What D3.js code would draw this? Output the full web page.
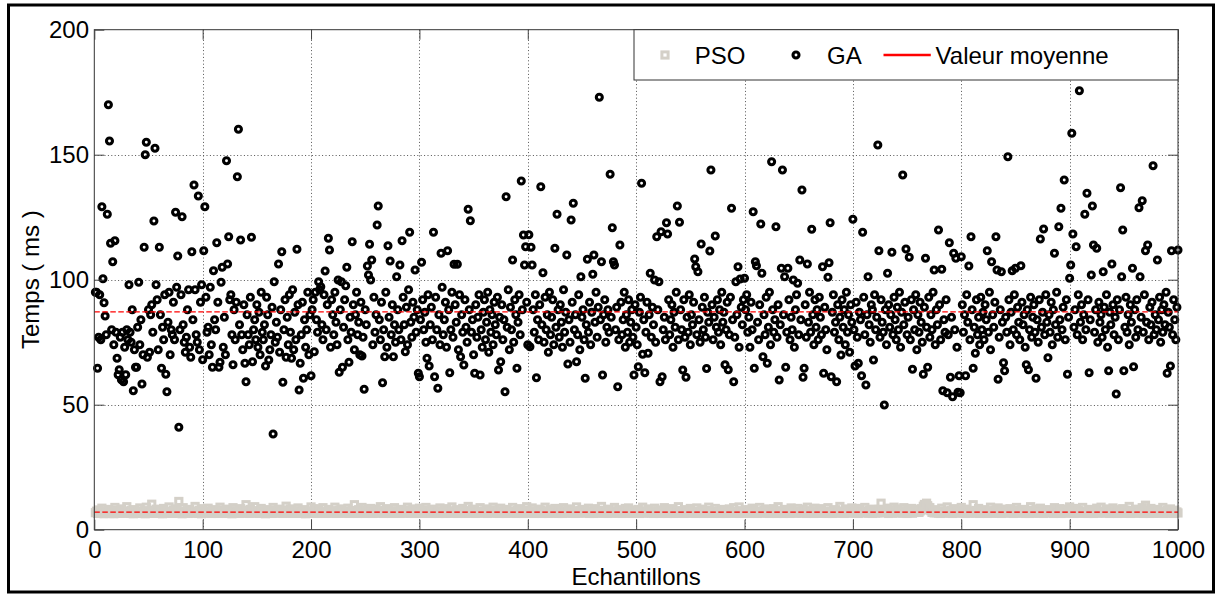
<!DOCTYPE html>
<html>
<head>
<meta charset="utf-8">
<script src="https://cdn.jsdelivr.net/npm/d3@7"></script>
<style>
  html, body { margin: 0; padding: 0; background: #fff; }
  svg { display: block; }
  text { font-family: Arial, "Liberation Sans", Helvetica, sans-serif; fill: #000; }
</style>
</head>
<body>
<svg id="chart" width="1219" height="594"></svg>
<script>
// Execution time per sample (ms), GA runs
const gaTimes = [
  95, 95, 64.6, 77, 94, 76, 129.2, 100.4, 90.8, 85.5,
  78, 126.2, 170, 155.5, 114.6, 80, 107.2, 74, 115.6, 79,
  68.6, 62, 64, 77, 60, 79, 59.2, 73, 62, 80,
  76, 98, 79, 75, 88, 55.6, 72, 65, 65, 81,
  99, 74, 84, 58.3, 70, 113, 150, 155, 69, 88,
  71, 86, 90, 79, 123.5, 152.6, 98, 92, 72, 113,
  86, 64.6, 81, 76, 94, 62.2, 55.2, 83, 95, 70,
  80, 78, 91, 76, 127, 97, 109.5, 41, 80, 94,
  125.2, 82, 75, 71, 77, 88, 96, 73, 69, 111.2,
  84, 137.9, 96, 78, 75, 133.5, 72, 91, 98, 68,
  111.6, 129.2, 93, 79, 81, 70, 97, 74, 65, 103.6,
  84, 80, 114.8, 91, 65, 67, 99, 105, 73, 85,
  70, 147.6, 106.3, 117.2, 92, 94, 78, 66, 88, 76,
  91, 141.2, 160.2, 82, 115.9, 78, 72, 90, 66.6, 59.2,
  86, 78, 74, 93, 117, 67.2, 80, 84, 76, 90,
  73, 87, 70, 95, 79, 76, 82, 65.5, 93, 86,
  67.9, 72, 78, 89, 38.3, 99.2, 75, 83, 77, 106.3,
  71, 88, 111.2, 59, 80, 92, 69, 85, 74, 94,
  79, 68.6, 96, 72, 87, 76, 112.2, 90, 55.9, 66.6,
  78, 91, 60.6, 84, 73, 80, 95, 70, 86, 61.6,
  88, 92, 71.2, 95, 84, 79, 99.2, 96, 97.2, 82,
  76, 94, 103.5, 80, 90, 116.6, 111.9, 73, 92, 86,
  78, 95, 83, 74, 99.9, 63, 88, 99.2, 65, 81,
  92, 97.6, 105, 76, 67, 85, 79, 115.2, 90, 72,
  86, 95, 78, 83, 70, 91, 69.5, 77, 56.2, 88,
  82, 105.5, 101.9, 114.2, 99.9, 107.9, 74, 93, 79, 86,
  121.9, 129.5, 84, 76, 91, 58.8, 80, 69.2, 95, 73,
  113.6, 85, 107.5, 78, 90, 69.2, 82, 75, 101.2, 88,
  80, 105.9, 76, 115.6, 93, 82, 71.2, 89, 74, 96,
  119, 83, 77, 91, 85, 103.9, 79, 88, 62.6, 61.2,
  84, 107, 92, 80, 87, 75, 68.6, 94, 65.5, 82,
  89, 76, 119, 61.2, 93, 80, 56.6, 86, 74, 110.6,
  97, 78, 84, 91, 73, 111.6, 88, 62.8, 80, 95,
  77, 106.2, 90, 83, 106.2, 72, 94, 69.2, 86, 79,
  65.9, 92, 81, 75, 128.2, 88, 123.6, 79, 84, 70,
  62.6, 90, 77, 85, 94, 61.9, 80, 73, 87, 92,
  76, 83, 95, 71, 88, 79, 86, 74, 91, 82,
  78, 93, 63.9, 85, 67.2, 90, 76, 84, 55.2, 133.2,
  81, 96, 72, 89, 80, 107.9, 75, 92, 86, 64.6,
  83, 94, 78, 139.5, 88, 117.9, 105.9, 113.2, 91, 74,
  118, 73.2, 113, 105.9, 88, 79, 94, 60.8, 84, 76,
  90, 137.2, 82, 102.8, 75, 93, 80, 86, 71, 95,
  78, 85, 92, 74, 112.6, 81, 126.2, 88, 77, 90,
  83, 73, 96, 79, 87, 109.9, 66.3, 84, 75, 123.9,
  91, 130.6, 80, 86, 67.2, 78, 94, 72, 101.2, 85,
  88, 76, 60.6, 82, 108.2, 79, 91, 74, 87, 102.2,
  109.9, 83, 95, 77, 89, 173, 84, 107.2, 61.9, 86,
  92, 75, 81, 88, 79, 142.2, 85, 120.8, 107.2, 105.9,
  80, 89, 57.2, 76, 113.9, 91, 78, 84, 95, 73,
  86, 79, 92, 75, 83, 88, 77, 61.9, 90, 81,
  74, 65.2, 87, 93, 138.6, 70.2, 84, 62.8, 79, 91,
  70.6, 86, 102.6, 77, 89, 82, 99.9, 75, 117.2, 88,
  99.2, 59.2, 119.2, 61.2, 80, 85, 76, 122.8, 118.3, 92,
  78, 84, 90, 73, 87, 81, 95, 129.5, 76, 123,
  88, 80, 63.9, 92, 77, 61, 85, 79, 94, 74,
  86, 82, 91, 108.3, 105.2, 78, 103.2, 84, 75, 114.3,
  89, 80, 93, 77, 64.5, 87, 83, 111.5, 143.9, 90,
  76, 85, 117.5, 81, 92, 79, 88, 74, 95, 83,
  87, 66, 80, 91, 64, 78, 93, 128.6, 84, 59.2,
  77, 99.2, 86, 105.2, 73, 100.3, 89, 82, 92, 100.6,
  88, 94, 79, 85, 73, 91, 80, 127.2, 64.6, 107.2,
  105.6, 83, 76, 90, 122.3, 102.6, 69.2, 86, 78, 93,
  66.6, 81, 95, 74, 147.2, 88, 79, 84, 121.2, 77,
  90, 59.9, 82, 104.6, 143.9, 86, 101.2, 65, 79, 104.6,
  92, 76, 85, 80, 99.9, 73, 88, 94, 98.6, 78,
  107.9, 84, 135.9, 61, 64.6, 90, 77, 106.3, 83, 95,
  79, 120.2, 86, 74, 92, 81, 88, 76, 93, 85,
  78, 105.2, 62.6, 89, 80, 72, 101, 106.8, 122.8, 61.2,
  87, 94, 79, 83, 59.2, 90, 76, 85, 69.9, 92,
  81, 88, 74, 95, 79, 86, 71, 90, 83, 124.2,
  80, 65.5, 91, 77, 66.6, 87, 84, 61.6, 119, 93,
  78, 57.9, 86, 101.2, 82, 75, 90, 88, 67.9, 94,
  80, 85, 153.9, 111.6, 77, 92, 83, 79, 49.9, 88,
  74, 102.6, 90, 81, 86, 111, 78, 93, 84, 76,
  89, 80, 95, 73, 87, 141.9, 82, 91, 112.3, 78,
  85, 109, 76, 92, 64.2, 88, 80, 94, 72, 86,
  79, 91, 83, 75, 62.2, 89, 108.6, 81, 65, 93,
  77, 86, 80, 95, 103.9, 74, 88, 82, 119.9, 90,
  76, 104.2, 55.6, 84, 79, 92, 54.8, 78, 114.8, 61,
  85, 53.2, 110.6, 80, 108.6, 73, 55, 61.6, 54.8, 109.2,
  90, 79, 86, 61.6, 94, 83, 105.5, 76, 117.2, 88,
  64.6, 81, 70.6, 92, 78, 85, 74, 93, 80, 87,
  76, 90, 84, 111.6, 79, 95, 72, 107.2, 86, 81,
  91, 117.2, 103.9, 60.2, 77, 88, 103.2, 83, 66.8, 63.6,
  85, 79, 149.2, 92, 74, 87, 103.6, 80, 94, 104.6,
  78, 89, 83, 76, 105.6, 91, 82, 86, 73, 66,
  88, 64, 80, 93, 77, 85, 90, 79, 60.6, 84,
  75, 92, 116.3, 81, 87, 120.3, 78, 94, 83, 68.8,
  86, 79, 91, 74, 88, 110.6, 82, 95, 77, 121.2,
  84, 128.6, 80, 89, 139.9, 76, 92, 62.2, 85, 100.6,
  105.9, 158.6, 118.3, 81, 88, 113.2, 78, 94, 175.6, 83,
  90, 76, 86, 126.2, 80, 134.6, 92, 62.8, 84, 101.9,
  129.5, 113.9, 79, 88, 112.6, 75, 91, 83, 86, 77,
  103.2, 89, 80, 94, 73, 63.6, 87, 82, 106.3, 90,
  78, 85, 54.3, 92, 76, 88, 136.8, 101.2, 119.9, 63.6,
  81, 93, 79, 86, 74, 90, 83, 104.6, 65.2, 88,
  77, 92, 80, 128.8, 101.2, 85, 131.6, 79, 94, 111.6,
  83, 113.9, 76, 89, 82, 91, 145.6, 78, 86, 80,
  107.9, 84, 93, 75, 88, 79, 90, 82, 95, 62.6,
  87, 81, 65.5, 111.6, 78, 92, 84, 76, 89, 111.9
];

// Execution time per sample (ms), PSO runs
const psoTimes = [
  6.8, 7.4, 6.5, 7.9, 6.6, 7.2, 8.6, 6.9, 6.4, 7.5,
  7.0, 6.7, 8.1, 6.5, 7.3, 6.8, 7.7, 6.4, 8.9, 6.9,
  7.2, 6.6, 7.6, 6.5, 8.3, 7.0, 6.7, 7.4, 6.6, 9.2,
  6.9, 7.3, 6.5, 7.8, 6.8, 6.4, 8.0, 7.1, 6.6, 7.5,
  6.7, 8.7, 6.5, 7.0, 6.8, 7.6, 6.4, 9.0, 7.2, 6.6,
  7.4, 6.5, 10.2, 6.9, 7.1, 6.6, 8.2, 6.8, 7.3, 6.5,
  7.7, 6.9, 6.4, 8.5, 7.0, 6.7, 7.4, 6.6, 9.1, 6.8,
  7.2, 6.5, 7.9, 6.9, 6.6, 8.3, 7.1, 11.3, 6.7, 7.5,
  6.4, 8.8, 6.8, 7.2, 6.6, 7.6, 6.5, 8.1, 7.0, 6.7,
  7.3, 6.6, 9.3, 6.9, 7.4, 6.5, 7.8, 6.8, 6.4, 8.4,
  7.0, 6.7, 7.5, 6.6, 8.6, 6.9, 7.2, 6.5, 7.7, 6.8,
  6.6, 8.0, 7.1, 6.5, 7.4, 9.0, 6.8, 7.3, 6.6, 7.9,
  6.9, 6.5, 8.2, 7.0, 6.7, 7.6, 6.4, 8.8, 7.2, 6.6,
  7.5, 6.8, 7.0, 6.5, 8.4, 6.9, 7.3, 6.6, 7.8, 10.0,
  6.7, 7.2, 6.5, 8.1, 6.9, 7.4, 6.6, 9.2, 7.0, 6.8,
  7.6, 6.5, 7.1, 8.5, 6.7, 6.9, 7.3, 6.4, 8.0, 7.2,
  6.6, 7.8, 6.8, 6.5, 8.9, 7.0, 6.7, 7.4, 6.6, 8.2,
  7.1, 6.9, 7.5, 6.5, 7.9, 6.8, 9.4, 6.6, 7.2, 6.7,
  8.3, 7.0, 6.5, 7.6, 6.9, 7.3, 6.6, 8.7, 7.1, 6.8,
  6.5, 7.7, 6.9, 8.0, 6.4, 7.2, 6.7, 7.5, 6.6, 9.1,
  7.0, 6.6, 8.4, 6.8, 7.3, 6.5, 7.9, 6.9, 7.1, 6.6,
  8.8, 6.7, 7.4, 6.5, 7.0, 8.1, 6.8, 7.6, 6.6, 7.2,
  6.9, 9.0, 6.5, 7.3, 6.7, 7.8, 6.6, 8.3, 7.1, 6.8,
  7.5, 6.6, 7.0, 8.6, 6.5, 7.2, 6.9, 7.7, 6.7, 10.0,
  6.8, 7.4, 6.5, 8.0, 7.1, 6.6, 8.9, 6.9, 7.3, 6.5,
  7.7, 6.8, 7.0, 6.6, 8.5, 7.2, 6.5, 7.5, 6.9, 8.2,
  6.7, 7.3, 6.6, 9.2, 6.8, 7.0, 6.5, 7.8, 7.1, 6.6,
  8.4, 6.9, 7.2, 6.5, 7.6, 6.7, 8.8, 6.8, 7.0, 6.6,
  7.4, 6.5, 8.1, 6.9, 7.3, 6.6, 7.9, 6.8, 9.0, 6.7,
  7.1, 6.6, 7.5, 8.3, 6.5, 7.0, 6.8, 7.7, 6.6, 8.6,
  6.9, 7.2, 6.5, 7.8, 6.7, 8.9, 6.6, 7.1, 6.8, 7.4,
  6.5, 8.2, 7.0, 6.6, 7.6, 6.9, 7.3, 6.5, 8.7, 6.8,
  7.2, 6.7, 7.9, 6.5, 8.4, 7.0, 6.6, 7.5, 6.8, 9.1,
  6.6, 7.4, 6.9, 8.0, 6.5, 7.1, 6.7, 7.7, 6.6, 8.5,
  7.3, 6.8, 6.5, 7.6, 9.3, 6.9, 7.0, 6.6, 8.2, 6.7,
  7.8, 6.5, 7.2, 6.8, 7.4, 8.8, 6.6, 7.0, 6.9, 7.5,
  6.7, 8.3, 6.5, 7.1, 6.8, 7.9, 6.6, 9.0, 7.3, 6.9,
  7.0, 6.6, 7.6, 6.5, 8.6, 6.8, 7.2, 6.7, 7.8, 6.5,
  8.1, 7.0, 6.9, 7.4, 6.6, 8.9, 6.8, 7.1, 6.5, 7.7,
  6.8, 7.3, 8.4, 6.6, 7.0, 6.5, 7.9, 6.9, 9.2, 6.7,
  7.4, 6.6, 7.1, 8.7, 6.8, 6.5, 7.6, 7.0, 6.7, 8.2,
  6.9, 7.8, 6.5, 7.2, 6.6, 9.0, 6.8, 7.3, 6.5, 7.5,
  8.0, 6.7, 7.0, 6.6, 8.5, 6.9, 7.4, 6.5, 7.9, 6.8,
  7.1, 6.5, 8.8, 6.9, 7.2, 6.6, 7.7, 6.8, 8.3, 7.0,
  6.6, 7.5, 6.8, 6.5, 9.1, 7.0, 6.7, 7.6, 6.9, 8.1,
  7.3, 6.6, 7.9, 6.8, 7.0, 8.6, 6.5, 7.2, 6.7, 7.4,
  6.5, 8.4, 6.9, 7.1, 6.6, 7.8, 6.8, 9.3, 7.0, 6.6,
  7.6, 6.7, 7.2, 6.5, 8.2, 6.9, 7.0, 6.6, 7.5, 8.9,
  6.8, 7.3, 6.6, 8.0, 6.9, 7.1, 6.5, 7.7, 6.7, 8.5,
  7.0, 6.6, 8.7, 6.8, 7.4, 6.5, 7.9, 7.1, 6.9, 7.2,
  6.7, 8.1, 6.5, 7.5, 6.8, 9.0, 6.6, 7.0, 7.3, 6.9,
  8.3, 6.8, 7.1, 6.6, 7.6, 6.5, 8.6, 6.9, 7.2, 6.7,
  7.4, 6.5, 7.9, 7.0, 6.6, 8.8, 6.8, 7.3, 6.5, 7.7,
  6.9, 7.2, 6.7, 8.4, 6.5, 7.0, 6.8, 7.6, 9.2, 6.6,
  7.1, 6.8, 7.5, 6.5, 8.0, 6.9, 7.3, 6.6, 7.8, 8.5,
  6.6, 7.4, 6.9, 7.0, 6.5, 8.7, 6.8, 7.2, 6.7, 7.6,
  8.2, 6.5, 7.1, 6.9, 7.7, 6.6, 9.0, 6.8, 7.3, 6.5,
  7.0, 6.7, 8.5, 6.6, 7.2, 6.9, 7.5, 6.5, 8.1, 7.1,
  6.8, 7.9, 6.5, 7.3, 6.7, 8.3, 6.9, 7.0, 6.6, 8.8,
  7.4, 6.6, 7.1, 6.8, 9.1, 6.5, 7.6, 6.9, 7.2, 6.7,
  8.0, 6.9, 7.3, 6.5, 7.8, 6.7, 8.6, 6.6, 7.1, 6.8,
  7.5, 6.5, 7.0, 8.9, 6.8, 7.2, 6.6, 7.7, 6.9, 8.3,
  6.7, 7.4, 6.5, 7.9, 7.0, 6.6, 8.4, 6.8, 7.2, 6.5,
  9.2, 6.9, 7.6, 6.7, 7.1, 6.5, 8.1, 6.8, 7.3, 6.6,
  7.8, 6.5, 8.7, 6.9, 7.0, 6.7, 7.5, 6.6, 8.5, 7.2,
  6.8, 7.1, 6.6, 8.2, 6.9, 7.4, 6.5, 9.0, 6.7, 7.0,
  7.6, 6.8, 7.2, 6.5, 8.6, 6.9, 7.0, 6.6, 7.9, 6.7,
  8.4, 6.6, 7.3, 6.8, 7.1, 6.5, 8.8, 7.0, 6.9, 7.5,
  6.5, 7.7, 6.9, 8.0, 6.6, 7.2, 6.8, 9.3, 7.0, 6.7,
  7.4, 6.5, 8.3, 6.9, 7.6, 6.8, 7.1, 6.6, 8.7, 7.0,
  6.8, 7.9, 6.6, 7.3, 6.5, 8.5, 7.0, 6.9, 7.5, 6.7,
  8.9, 6.9, 7.2, 6.6, 7.8, 6.8, 7.0, 6.5, 8.2, 7.3,
  6.6, 7.5, 6.8, 8.1, 7.4, 10.6, 7.1, 6.7, 7.7, 6.9,
  7.0, 8.6, 6.5, 7.3, 6.8, 7.9, 6.6, 9.0, 7.2, 6.9,
  8.3, 6.7, 7.6, 6.9, 7.1, 6.6, 8.8, 6.8, 7.4, 6.5,
  7.8, 7.0, 6.8, 8.5, 6.6, 7.3, 6.9, 7.7, 8.1, 7.2,
  6.9, 7.5, 8.4, 7.9, 9.4, 10.1, 8.7, 10.6, 9.6, 8.9,
  8.8, 7.6, 6.9, 7.2, 6.7, 8.0, 6.8, 7.4, 6.6, 7.1,
  6.5, 8.6, 7.0, 6.8, 7.5, 6.6, 9.1, 6.9, 7.3, 6.7,
  7.8, 6.5, 7.1, 8.4, 6.8, 7.0, 6.6, 7.6, 6.9, 8.9,
  7.2, 6.7, 7.9, 6.5, 8.2, 6.9, 7.4, 6.6, 7.0, 6.8,
  10.0, 7.1, 6.6, 7.7, 6.9, 8.5, 6.5, 7.3, 6.8, 7.5,
  6.7, 8.0, 7.2, 6.5, 7.6, 6.9, 9.0, 6.8, 7.1, 6.6,
  7.9, 6.6, 7.4, 8.7, 6.8, 7.0, 6.5, 7.8, 6.9, 8.2,
  7.1, 6.8, 7.5, 6.6, 8.4, 6.9, 7.2, 6.5, 7.7, 6.7,
  8.9, 7.0, 6.6, 7.3, 6.8, 8.1, 6.9, 7.6, 6.5, 7.2,
  6.8, 7.8, 6.5, 9.2, 7.0, 6.7, 7.4, 6.9, 8.3, 6.6,
  7.5, 6.6, 8.6, 6.9, 7.1, 6.5, 7.9, 6.8, 7.3, 8.0,
  6.9, 7.2, 6.7, 7.7, 6.5, 8.8, 7.0, 6.6, 7.6, 6.8,
  8.4, 6.5, 7.3, 6.9, 7.0, 6.7, 8.2, 7.4, 6.6, 9.1,
  7.0, 6.8, 7.6, 6.5, 8.5, 7.1, 6.9, 7.8, 6.6, 7.2,
  6.6, 8.9, 6.9, 7.3, 6.7, 7.5, 6.5, 8.1, 7.0, 6.8,
  7.7, 6.5, 7.1, 6.9, 8.6, 6.6, 7.4, 6.8, 9.0, 7.0,
  6.8, 7.3, 6.6, 8.3, 6.9, 7.0, 6.5, 7.6, 6.7, 8.7,
  7.2, 6.9, 8.0, 6.5, 7.5, 6.8, 7.1, 6.6, 8.4, 6.9,
  7.9, 6.6, 7.0, 6.8, 9.3, 6.5, 7.3, 6.9, 7.7, 7.1,
  6.7, 8.2, 6.6, 7.4, 6.8, 7.0, 8.8, 6.5, 7.2, 9.8,
  7.6, 6.9, 7.1, 6.5, 8.5, 6.8, 7.3, 6.6, 7.9, 6.7,
  8.1, 7.0, 6.6, 7.5, 6.9, 8.9, 6.5, 7.2, 6.8, 7.7,
  6.6, 7.4, 8.3, 6.8, 7.0, 6.5, 7.8, 6.9, 7.1, 6.7
];

// Mean execution times (ms)
const gaMean = 87.1;
const psoMean = 7.0;

// Axis ticks
const xTicks = [0, 100, 200, 300, 400, 500, 600, 700, 800, 900, 1000];
const yTicks = [0, 50, 100, 150, 200];

// Legend entries
const legendItems = ["PSO", "GA", "Valeur moyenne"];

const svg = d3.select("#chart");
const W = 1219, H = 594;
const plot = { left: 94.3, right: 1178, top: 29.7, bottom: 529.7 };

const x = d3.scaleLinear().domain([0, 1000]).range([plot.left, plot.right]);
const y = d3.scaleLinear().domain([0, 200]).range([plot.bottom, plot.top]);

svg.append("rect").attr("width", W).attr("height", H).attr("fill", "#fff");

// outer figure frame
svg.append("rect")
  .attr("x", 8.5).attr("y", 5)
  .attr("width", 1205).attr("height", 587)
  .attr("fill", "none").attr("stroke", "#000").attr("stroke-width", 3);

// dotted grid
const grid = svg.append("g").attr("stroke", "#555").attr("stroke-width", 1)
  .attr("stroke-dasharray", "1,2.4");
grid.selectAll("line.gx").data(xTicks.filter(d => d > 0)).join("line")
  .attr("x1", d => Math.round(x(d)) + 0.5).attr("x2", d => Math.round(x(d)) + 0.5)
  .attr("y1", plot.top).attr("y2", plot.bottom);
grid.selectAll("line.gy").data(yTicks.filter(d => d > 0 && d < 200)).join("line")
  .attr("x1", plot.left).attr("x2", plot.right)
  .attr("y1", d => Math.round(y(d)) + 0.5).attr("y2", d => Math.round(y(d)) + 0.5);

// PSO markers (grey squares)
const sq = 6.2;
svg.append("g").selectAll("rect").data(psoTimes).join("rect")
  .attr("x", (d, i) => x(i + 1) - sq / 2)
  .attr("y", d => y(d) - sq / 2)
  .attr("width", sq).attr("height", sq)
  .attr("fill", "none").attr("stroke", "#d4d0c8").attr("stroke-width", 3);

// GA markers (black open circles)
const cr = 3.0, cw = 3.1;
svg.append("g").selectAll("circle").data(gaTimes).join("circle")
  .attr("cx", (d, i) => x(i + 1))
  .attr("cy", d => y(d))
  .attr("r", cr)
  .attr("fill", "none").attr("stroke", "#000").attr("stroke-width", cw);

// mean lines
svg.append("g").selectAll("line").data([psoMean, gaMean]).join("line")
  .attr("x1", x(0)).attr("x2", x(1000))
  .attr("y1", d => y(d)).attr("y2", d => y(d))
  .attr("stroke", "#ff0000").attr("stroke-width", 1.3)
  .attr("stroke-dasharray", "5.5,2.5");

// axes box
svg.append("rect")
  .attr("x", plot.left).attr("y", plot.top)
  .attr("width", plot.right - plot.left).attr("height", plot.bottom - plot.top)
  .attr("fill", "none").attr("stroke", "#333").attr("stroke-width", 1);

function styleAxis(g) {
  g.select(".domain").remove();
  g.selectAll(".tick line").attr("stroke", "#444").attr("stroke-width", 1);
  g.selectAll(".tick text").attr("font-size", 24)
    .attr("font-family", 'Arial, "Liberation Sans", Helvetica, sans-serif').attr("fill", "#000");
}

svg.append("g").attr("transform", `translate(0,${plot.bottom})`)
  .call(d3.axisBottom(x).tickValues(xTicks).tickSize(-10).tickPadding(11.6).tickFormat(d3.format("d")))
  .call(styleAxis);
svg.append("g").attr("transform", `translate(0,${plot.top})`)
  .call(d3.axisTop(x).tickValues(xTicks).tickSize(-10).tickFormat(""))
  .call(styleAxis);
svg.append("g").attr("transform", `translate(${plot.left},0)`)
  .call(d3.axisLeft(y).tickValues(yTicks).tickSize(-10).tickPadding(5.3).tickFormat(d3.format("d")))
  .call(styleAxis);
svg.append("g").attr("transform", `translate(${plot.right},0)`)
  .call(d3.axisRight(y).tickValues(yTicks).tickSize(-10).tickFormat(""))
  .call(styleAxis);

// axis titles
svg.append("text")
  .attr("x", (plot.left + plot.right) / 2).attr("y", 585)
  .attr("text-anchor", "middle").attr("font-size", 24)
  .text("Echantillons");
svg.append("text")
  .attr("transform", `translate(39,${(plot.top + plot.bottom) / 2}) rotate(-90)`)
  .attr("text-anchor", "middle").attr("font-size", 24)
  .text("Temps ( ms )");

// legend
const lg = svg.append("g");
lg.append("rect")
  .attr("x", 634).attr("y", plot.top)
  .attr("width", plot.right - 634).attr("height", 80 - plot.top)
  .attr("fill", "#fff").attr("stroke", "#333").attr("stroke-width", 1);
const ly = 55;
lg.append("rect")
  .attr("x", 665 - sq / 2).attr("y", ly - sq / 2).attr("width", sq).attr("height", sq)
  .attr("fill", "none").attr("stroke", "#d4d0c8").attr("stroke-width", 3);
lg.append("circle")
  .attr("cx", 796).attr("cy", ly).attr("r", cr)
  .attr("fill", "none").attr("stroke", "#000").attr("stroke-width", cw);
lg.append("line")
  .attr("x1", 883.5).attr("x2", 930.8).attr("y1", ly).attr("y2", ly)
  .attr("stroke", "#ff0000").attr("stroke-width", 2.5);
lg.selectAll("text").data(legendItems).join("text")
  .attr("x", (d, i) => [694.7, 827, 935.6][i])
  .attr("y", ly + 8.6)
  .attr("font-size", 24)
  .text(d => d);
</script>
</body>
</html>
